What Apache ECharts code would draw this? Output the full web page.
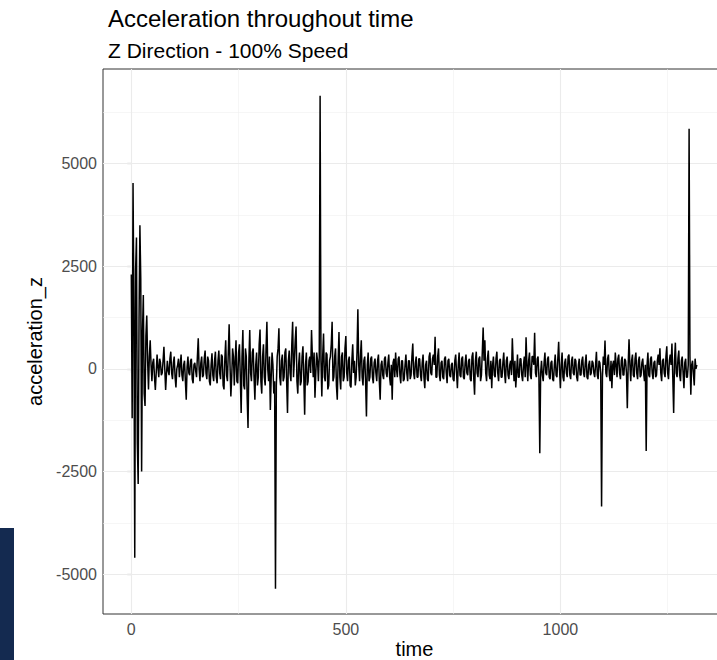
<!DOCTYPE html>
<html>
<head>
<meta charset="utf-8">
<script src="https://cdn.jsdelivr.net/npm/echarts@6/dist/echarts.min.js"></script>
<style>
html,body{margin:0;padding:0;background:#fff;}
#chart{width:717px;height:660px;}
</style>
</head>
<body>
<div id="chart"></div>
<script>
const titleText = "Acceleration throughout time";
const subtitleText = "Z Direction - 100% Speed";
const xName = "time";
const yName = "acceleration_z";
const timeStep = 2;
const accelerationZ = [
  2300, -1200, 4530, 1500, -4600, 2400, 3200, -1800, -2800, 1200, 3500, 2200, -2500, 900, 1800, -600, -900, 800, 1300, 200,
  -500, 300, 700, 100, -300, 150, 250, -200, -510, -100, 350, 50, -200, 250, 150, -150, -100, 200, 540, 0,
  -510, -100, 200, -50, -150, 250, 420, -100, -250, 150, 300, -200, -450, 0, 100, 250, -200, 100, 350, -150,
  -300, 100, 200, -300, -750, 50, 300, -100, -150, 200, 250, -250, -350, 100, 150, -50, -200, 300, 745, 0,
  -300, 150, 300, -200, -150, 250, 450, -100, -250, 300, 200, -300, -400, 100, 380, -150, -300, 200, 420, -200,
  -350, 200, 450, -100, -250, 350, 300, -400, -500, 250, 700, -150, -300, 400, 1090, 100, -670, -200, 500, 300,
  -400, 200, 700, -300, -350, 400, 600, -200, -1075, 300, 950, -400, -500, 500, 300, -700, -1440, 200, 950, -100,
  -300, 400, 500, -200, -750, 100, 400, -400, -200, 600, 960, -300, -600, 300, 600, -200, -400, 500, 1150, 0,
  -300, 300, -1000, -200, 400, 100, -600, -300, -5350, -400, 300, 500, 990, -200, -400, 200, 350, -300, -200, 400,
  500, -300, -1075, 200, 450, -100, -300, 600, 1150, -200, 200, 700, 1030, -300, -600, 100, 400, -400, -300, 300,
  550, -200, -1115, 100, 400, -400, -300, 200, 300, -100, 950, 300, -200, 400, -700, -100, 400, 200, -300, 300,
  6650, 200, -670, 300, 865, -200, -300, 400, 350, -500, -400, 200, 300, 600, 1150, -300, -200, 300, 500, -400,
  -750, 200, 900, -200, -500, 300, 400, -300, -200, 500, 800, -100, -300, 200, 300, -400, -450, 200, 600, -100,
  200, -400, -200, 400, 1450, 100, -300, 300, 700, -200, -400, 200, 300, -300, -1160, 100, 400, -300, -200, 250,
  300, -200, -350, 150, 250, -100, -300, 200, 350, -300, -750, 100, 200, -150, -250, 250, 300, -100, -200, 150,
  350, -200, -400, 100, -750, 150, 250, -200, 400, 0, -200, 250, 300, -150, -350, 200, 200, -300, -250, 100,
  350, -100, -300, 200, 200, -250, -150, 300, 620, -100, -250, 150, 300, -200, -200, 250, 250, -150, -300, 150,
  350, -200, -470, 100, 200, -250, -300, 300, 400, -100, -150, 250, 350, 100, 785, -200, -200, 300, 500, -150,
  -300, 150, 200, -200, -250, 250, 300, -100, -350, 200, 250, -150, -200, 100, 150, -250, -300, 200, 350, -100,
  -470, 100, 400, -150, -200, 250, 300, -200, -250, 150, 350, -100, -150, 200, 250, -250, -300, 300, 400, -200,
  -630, 200, 420, -100, -200, 250, 300, -300, -150, 400, 1010, 200, 700, -100, -300, 250, 450, -150, -250, 200,
  -470, 100, 300, -150, -200, 250, 420, -100, -300, 200, 250, -200, -200, 150, 400, -100, -350, 200, 300, -150,
  -250, 100, 200, -150, 745, 150, -300, 200, -450, -100, 350, -200, -200, 250, 250, -150, -300, 100, 300, -200,
  770, 100, -300, 200, 400, -150, -250, 300, 300, 100, 880, -100, -200, 250, 300, -200, -2050, -100, 200, -150,
  -300, 150, 400, -100, -150, 250, 300, -200, -250, 150, 200, -250, -300, 100, 350, -150, -200, 250, 660, 0,
  -470, 100, 400, -200, -300, 150, 250, -100, -200, 300, 350, -150, -250, 200, 300, -100, -150, 250, 200, -200,
  -300, 100, 250, -150, -150, 200, 300, -100, -200, 150, 350, -200, -250, 100, 200, -150, -100, 200, 150, -100,
  -200, 100, 420, -150, -250, 200, 150, -100, -3350, -200, 300, 100, 690, -100, -200, 250, 350, -150, -300, 200,
  -470, 100, 200, -150, 400, 100, -200, 250, 350, -100, -250, 200, 300, -150, -150, 250, 200, -100, -955, 100,
  720, 100, -300, 200, 350, -150, -200, 250, 400, -100, -250, 200, 300, -200, -150, 150, 250, -100, -300, 100,
  -2000, 100, 400, -150, -200, 250, 300, -100, -250, 150, 200, -200, -150, 200, 350, 100, 500, -100, -300, 200,
  250, -100, -200, 300, 550, -100, -250, 200, 350, 100, 620, -200, -1075, 200, 640, -100, -200, 250, 450, -150,
  -300, 200, 300, -100, -470, 150, 250, -200, -200, 100, 5850, 300, -630, 100, 200, -100, -400, 250, 0, 100
];
const xRange = [-66, 1386];
const yRange = [-5967, 7303];
const xMajorTicks = [0, 500, 1000];
const xMinorTicks = [250, 750, 1250];
const yMajorTicks = [-5000, -2500, 0, 2500, 5000];
const yMinorTicks = [-3750, -1250, 1250, 3750, 6250];

const seriesData = accelerationZ.map((v, i) => [i * timeStep, v]);

const chart = echarts.init(document.getElementById('chart'), null, {renderer: 'svg', width: 717, height: 660});
const FONT = 'Liberation Sans, Arial, Helvetica, sans-serif';
const gridMajor = {color: '#ebebeb', width: 1.1, type: 'solid'};
const gridMinor = {color: '#f0f0f0', width: 0.6, type: 'solid'};

chart.setOption({
  animation: false,
  backgroundColor: '#ffffff',
  title: [
    {text: titleText, left: 103, top: 1, textStyle: {fontFamily: FONT, fontSize: 24, fontWeight: 'normal', color: '#000'}},
    {text: subtitleText, left: 103, top: 35, textStyle: {fontFamily: FONT, fontSize: 21, fontWeight: 'normal', color: '#000'}}
  ],
  graphic: [
    {type: 'rect', left: 0, top: 528, shape: {width: 14, height: 132}, style: {fill: '#142a50'}, z: 100}
  ],
  grid: {left: 103, top: 69, width: 623, height: 545, show: true, borderColor: '#333333', borderWidth: 1, backgroundColor: '#ffffff', containLabel: false, outerBoundsMode: 'none'},
  xAxis: {
    type: 'value', min: xRange[0], max: xRange[1],
    name: xName, nameLocation: 'middle', nameGap: 25, nameMoveOverlap: false,
    nameTextStyle: {fontFamily: FONT, fontSize: 20, lineHeight: 20, color: '#000'},
    axisLine: {show: false},
    axisTick: {show: true, length: 4, lineStyle: {color: '#333333', width: 1.1}, customValues: xMajorTicks},
    axisLabel: {show: true, customValues: xMajorTicks, formatter: v => String(v), fontFamily: FONT, fontSize: 16, color: '#4d4d4d', margin: 7},
    splitLine: {show: false}
  },
  yAxis: {
    type: 'value', min: yRange[0], max: yRange[1],
    name: yName, nameLocation: 'middle', nameGap: 58, nameRotate: 90, nameMoveOverlap: false,
    nameTextStyle: {fontFamily: FONT, fontSize: 20, color: '#000'},
    axisLine: {show: false},
    axisTick: {show: true, length: 4, lineStyle: {color: '#333333', width: 1.1}, customValues: yMajorTicks},
    axisLabel: {show: true, customValues: yMajorTicks, formatter: v => String(v), fontFamily: FONT, fontSize: 16, color: '#4d4d4d', margin: 6},
    splitLine: {show: false}
  },
  series: [
    {
      type: 'line', data: [], silent: true, z: 1,
      markLine: {
        silent: true, symbol: ['none', 'none'], label: {show: false}, animation: false,
        data: [].concat(
          xMinorTicks.map(v => ({xAxis: v, lineStyle: gridMinor})),
          yMinorTicks.map(v => ({yAxis: v, lineStyle: gridMinor})),
          xMajorTicks.map(v => ({xAxis: v, lineStyle: gridMajor})),
          yMajorTicks.map(v => ({yAxis: v, lineStyle: gridMajor}))
        )
      }
    },
    {
      type: 'line', data: seriesData, z: 5, showSymbol: false, symbol: 'none',
      lineStyle: {color: '#000000', width: 1.5}, clip: true, silent: true
    }
  ]
});
</script>
</body>
</html>
